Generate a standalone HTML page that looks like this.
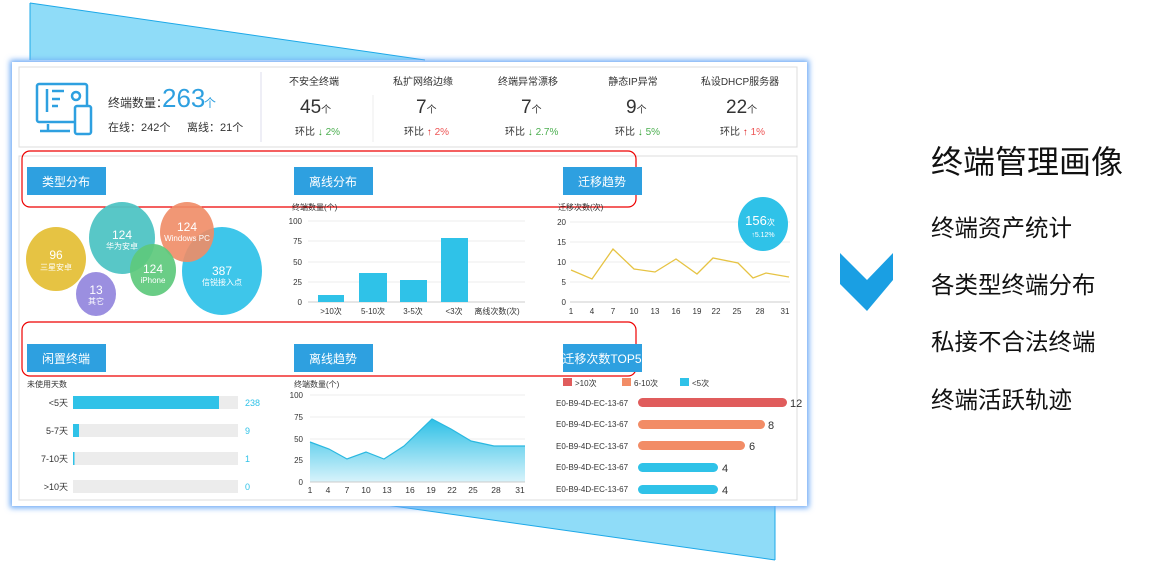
<!DOCTYPE html>
<html><head><meta charset="utf-8"><style>
html,body{margin:0;padding:0;background:#fff;}
svg{display:block;font-family:"Liberation Sans","Noto Sans CJK SC",sans-serif;}
</style></head><body>
<svg width="1169" height="565" viewBox="0 0 1169 565" xmlns="http://www.w3.org/2000/svg">
<defs>
<linearGradient id="ag" x1="0" y1="0" x2="0" y2="1"><stop offset="0" stop-color="#2ec0e6"/><stop offset="1" stop-color="#d8f3fb"/></linearGradient>
<filter id="gl" x="-5%" y="-5%" width="110%" height="110%"><feGaussianBlur stdDeviation="3"/></filter>
</defs>
<polygon points="30,3 425,60 30,60" fill="#8fdcf8"/>
<line x1="30" y1="3" x2="425" y2="60" stroke="#1ca8e8" stroke-width="1"/>
<line x1="30" y1="3" x2="30" y2="60" stroke="#1ca8e8" stroke-width="1"/>
<polygon points="386,505 775,505 775,560" fill="#8fdcf8"/>
<line x1="386" y1="505" x2="775" y2="560" stroke="#1ca8e8"/>
<line x1="775" y1="505" x2="775" y2="560" stroke="#1ca8e8"/>
<rect x="10" y="60" width="799" height="448" fill="#6aa8f5" filter="url(#gl)"/>
<rect x="12" y="62" width="795" height="444" fill="#fff"/>
<rect x="19" y="67" width="778" height="80" fill="#fff" stroke="#dcdcdc"/>
<rect x="19" y="156" width="778" height="344" fill="#fff" stroke="#dcdcdc"/>
<g fill="none" stroke="#2ea0e0" stroke-width="2.5">
<rect x="37" y="84" width="50" height="38" rx="2"/>
<line x1="48" y1="124" x2="48" y2="130"/><line x1="40" y1="131" x2="70" y2="131"/>
<rect x="75" y="106" width="16" height="28" rx="2" fill="#fff"/>
<line x1="47" y1="89" x2="47" y2="112"/><line x1="52" y1="91" x2="64" y2="91"/><line x1="52" y1="99" x2="60" y2="99"/><line x1="52" y1="106" x2="58" y2="106"/>
<circle cx="76" cy="96" r="4"/>
</g>
<text x="108" y="107" font-size="12" fill="#333">终端数量：</text>
<text x="162" y="107" font-size="26" fill="#2ea0e0">263</text>
<text x="204" y="107" font-size="12" fill="#2ea0e0">个</text>
<text x="108" y="131" font-size="11" fill="#333">在线：242个</text>
<text x="187" y="131" font-size="11" fill="#333">离线：21个</text>
<line x1="261" y1="72" x2="261" y2="142" stroke="#dde"/>
<line x1="373" y1="95" x2="373" y2="142" stroke="#eee"/>
<g font-size="10" fill="#333" text-anchor="middle">
<text x="314" y="85">不安全终端</text><text x="423" y="85">私扩网络边缘</text><text x="528" y="85">终端异常漂移</text><text x="633" y="85">静态IP异常</text><text x="740" y="85">私设DHCP服务器</text>
</g>
<g font-size="19" fill="#333">
<text x="300" y="113">45<tspan font-size="10">个</tspan></text>
<text x="416" y="113">7<tspan font-size="10">个</tspan></text>
<text x="521" y="113">7<tspan font-size="10">个</tspan></text>
<text x="626" y="113">9<tspan font-size="10">个</tspan></text>
<text x="726" y="113">22<tspan font-size="10">个</tspan></text>
</g>
<g font-size="10">
<text x="295" y="135" fill="#333">环比 <tspan fill="#2a9a2a">↓</tspan> <tspan fill="#4caf50">2%</tspan></text>
<text x="404" y="135" fill="#333">环比 <tspan fill="#d22">↑</tspan> <tspan fill="#e55">2%</tspan></text>
<text x="505" y="135" fill="#333">环比 <tspan fill="#2a9a2a">↓</tspan> <tspan fill="#4caf50">2.7%</tspan></text>
<text x="615" y="135" fill="#333">环比 <tspan fill="#2a9a2a">↓</tspan> <tspan fill="#4caf50">5%</tspan></text>
<text x="720" y="135" fill="#333">环比 <tspan fill="#d22">↑</tspan> <tspan fill="#e55">1%</tspan></text>
</g>
<rect x="22" y="151" width="614" height="56" rx="8" fill="none" stroke="#e00" stroke-width="1.2"/>
<rect x="22" y="322" width="614" height="54" rx="8" fill="none" stroke="#e00" stroke-width="1.2"/>
<g fill="#2ea0e0">
<rect x="27" y="167" width="79" height="28"/><rect x="294" y="167" width="79" height="28"/><rect x="563" y="167" width="79" height="28"/>
<rect x="27" y="344" width="79" height="28"/><rect x="294" y="344" width="79" height="28"/><rect x="563" y="344" width="79" height="28"/>
</g>
<g font-size="12" fill="#fff" text-anchor="middle">
<text x="66" y="186">类型分布</text><text x="333" y="186">离线分布</text><text x="602" y="186">迁移趋势</text>
<text x="66" y="363">闲置终端</text><text x="333" y="363">离线趋势</text><text x="602" y="363">迁移次数TOP5</text>
</g>
<ellipse cx="56" cy="259" rx="30" ry="32" fill="#e6c343"/>
<ellipse cx="122" cy="238" rx="33" ry="36" fill="#4fc4c4" opacity="0.95"/>
<ellipse cx="96" cy="294" rx="20" ry="22" fill="#9b8fe0"/>
<ellipse cx="222" cy="271" rx="40" ry="44" fill="#3ec6ea"/>
<ellipse cx="187" cy="232" rx="27" ry="30" fill="#f08c66" opacity="0.9"/>
<ellipse cx="153" cy="270" rx="23" ry="26" fill="#5dc97c" opacity="0.92"/>
<g fill="#fff" text-anchor="middle">
<text x="56" y="259" font-size="12">96</text><text x="56" y="270" font-size="8">三星安卓</text>
<text x="122" y="239" font-size="12">124</text><text x="122" y="249" font-size="8">华为安卓</text>
<text x="187" y="231" font-size="12">124</text><text x="187" y="241" font-size="8">Windows PC</text>
<text x="153" y="273" font-size="12">124</text><text x="153" y="283" font-size="8">iPhone</text>
<text x="96" y="294" font-size="12">13</text><text x="96" y="304" font-size="8">其它</text>
<text x="222" y="275" font-size="12">387</text><text x="222" y="285" font-size="8">信锐接入点</text>
</g>
<text x="292" y="210" font-size="8" fill="#333">终端数量(个)</text>
<g stroke="#eee"><line x1="308" y1="221" x2="525" y2="221"/><line x1="308" y1="241" x2="525" y2="241"/><line x1="308" y1="262" x2="525" y2="262"/><line x1="308" y1="282" x2="525" y2="282"/><line x1="308" y1="302" x2="525" y2="302" stroke="#ccc"/></g>
<g font-size="8" fill="#333" text-anchor="end"><text x="302" y="224">100</text><text x="302" y="244">75</text><text x="302" y="265">50</text><text x="302" y="285">25</text><text x="302" y="305">0</text></g>
<g fill="#2fc2e8"><rect x="318" y="295" width="26" height="7"/><rect x="359" y="273" width="28" height="29"/><rect x="400" y="280" width="27" height="22"/><rect x="441" y="238" width="27" height="64"/></g>
<g font-size="8" fill="#333" text-anchor="middle"><text x="331" y="314">&gt;10次</text><text x="373" y="314">5-10次</text><text x="413" y="314">3-5次</text><text x="454" y="314">&lt;3次</text><text x="497" y="314">离线次数(次)</text></g>
<text x="558" y="210" font-size="8" fill="#333">迁移次数(次)</text>
<g stroke="#eee"><line x1="570" y1="222" x2="790" y2="222"/><line x1="570" y1="242" x2="790" y2="242"/><line x1="570" y1="262" x2="790" y2="262"/><line x1="570" y1="282" x2="790" y2="282"/><line x1="570" y1="302" x2="790" y2="302" stroke="#ccc"/></g>
<g font-size="8" fill="#333" text-anchor="end"><text x="566" y="225">20</text><text x="566" y="245">15</text><text x="566" y="265">10</text><text x="566" y="285">5</text><text x="566" y="305">0</text></g>
<polyline fill="none" stroke="#e6c343" stroke-width="1.3" points="571,270 592,279 613,249 634,269 655,272 676,259 697,274 713,258 738,263 753,278 766,273 789,277"/>
<g font-size="8" fill="#333" text-anchor="middle"><text x="571" y="314">1</text><text x="592" y="314">4</text><text x="613" y="314">7</text><text x="634" y="314">10</text><text x="655" y="314">13</text><text x="676" y="314">16</text><text x="697" y="314">19</text><text x="716" y="314">22</text><text x="737" y="314">25</text><text x="760" y="314">28</text><text x="785" y="314">31</text></g>
<ellipse cx="763" cy="224" rx="25" ry="27" fill="#2fc2e8"/>
<text x="760" y="225" font-size="13" fill="#fff" text-anchor="middle">156<tspan font-size="8">次</tspan></text>
<text x="763" y="237" font-size="7" fill="#fff" text-anchor="middle">↑5.12%</text>
<text x="27" y="387" font-size="8" fill="#333">未使用天数</text>
<g fill="#ececec"><rect x="73" y="396" width="165" height="13"/><rect x="73" y="424" width="165" height="13"/><rect x="73" y="452" width="165" height="13"/><rect x="73" y="480" width="165" height="13"/></g>
<g fill="#2fc2e8"><rect x="73" y="396" width="146" height="13"/><rect x="73" y="424" width="6" height="13"/><rect x="73" y="452" width="1.5" height="13"/></g>
<g font-size="9" fill="#333" text-anchor="end"><text x="68" y="406">&lt;5天</text><text x="68" y="434">5-7天</text><text x="68" y="462">7-10天</text><text x="68" y="490">&gt;10天</text></g>
<g font-size="9" fill="#2fc2e8"><text x="245" y="406">238</text><text x="245" y="434">9</text><text x="245" y="462">1</text><text x="245" y="490">0</text></g>
<text x="294" y="387" font-size="8" fill="#333">终端数量(个)</text>
<g stroke="#eee"><line x1="310" y1="395" x2="525" y2="395"/><line x1="310" y1="417" x2="525" y2="417"/><line x1="310" y1="439" x2="525" y2="439"/><line x1="310" y1="460" x2="525" y2="460"/></g>
<g font-size="8" fill="#333" text-anchor="end"><text x="303" y="398">100</text><text x="303" y="420">75</text><text x="303" y="442">50</text><text x="303" y="463">25</text><text x="303" y="485">0</text></g>
<polygon fill="url(#ag)" points="310,482 310,442 329,449 347,459 366,452 384,459 404,446 432,419 451,429 471,441 494,446 525,446 525,482"/>
<polyline fill="none" stroke="#2ab8e0" stroke-width="1.2" points="310,442 329,449 347,459 366,452 384,459 404,446 432,419 451,429 471,441 494,446 525,446"/>
<line x1="310" y1="482" x2="525" y2="482" stroke="#ccc"/>
<g font-size="8.5" fill="#333" text-anchor="middle"><text x="310" y="493">1</text><text x="328" y="493">4</text><text x="347" y="493">7</text><text x="366" y="493">10</text><text x="387" y="493">13</text><text x="410" y="493">16</text><text x="431" y="493">19</text><text x="452" y="493">22</text><text x="473" y="493">25</text><text x="496" y="493">28</text><text x="520" y="493">31</text></g>
<rect x="563" y="378" width="9" height="8" fill="#e05c5c"/><text x="575" y="386" font-size="8" fill="#333">&gt;10次</text>
<rect x="622" y="378" width="9" height="8" fill="#f28c66"/><text x="634" y="386" font-size="8" fill="#333">6-10次</text>
<rect x="680" y="378" width="9" height="8" fill="#2fc2e8"/><text x="692" y="386" font-size="8" fill="#333">&lt;5次</text>
<g font-size="8" fill="#333"><text x="556" y="406">E0-B9-4D-EC-13-67</text><text x="556" y="427">E0-B9-4D-EC-13-67</text><text x="556" y="449">E0-B9-4D-EC-13-67</text><text x="556" y="470">E0-B9-4D-EC-13-67</text><text x="556" y="492">E0-B9-4D-EC-13-67</text></g>
<rect x="638" y="398" width="149" height="9" rx="4.5" fill="#e05c5c"/>
<rect x="638" y="420" width="127" height="9" rx="4.5" fill="#f28c66"/>
<rect x="638" y="441" width="107" height="9" rx="4.5" fill="#f28c66"/>
<rect x="638" y="463" width="80" height="9" rx="4.5" fill="#2fc2e8"/>
<rect x="638" y="485" width="80" height="9" rx="4.5" fill="#2fc2e8"/>
<g font-size="11" fill="#333"><text x="790" y="407">12</text><text x="768" y="429">8</text><text x="749" y="450">6</text><text x="722" y="472">4</text><text x="722" y="494">4</text></g>
<polygon points="840,253 867,280 893,253 893,280 867,311 840,284" fill="#1a9fe3"/>
<text x="931" y="173" font-size="32" fill="#111">终端管理画像</text>
<g font-size="23.5" fill="#111">
<text x="931" y="236">终端资产统计</text>
<text x="931" y="293">各类型终端分布</text>
<text x="931" y="350">私接不合法终端</text>
<text x="931" y="408">终端活跃轨迹</text>
</g>
</svg>
</body></html>
